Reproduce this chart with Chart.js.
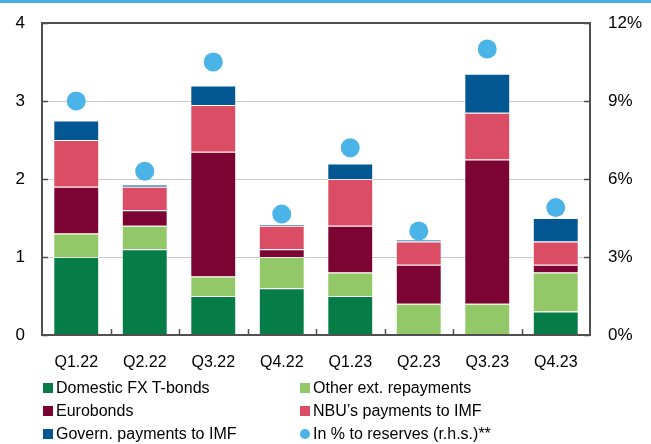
<!DOCTYPE html>
<html>
<head>
<meta charset="utf-8">
<script src="https://cdn.jsdelivr.net/npm/chart.js@4"></script>
<style>
  html, body { margin: 0; padding: 0; background: #fff; }
  #wrap { position: relative; width: 651px; height: 444px; overflow: hidden; }
  #topline { position: absolute; left: 0; top: 0; width: 651px; height: 3px; background: #4aafe4; }
  canvas { position: absolute; left: 0; top: 0; }
  .legend { position: absolute; font-family: "Liberation Sans", Arial, sans-serif; font-size: 16px; color: #000; }
  .item { position: absolute; white-space: nowrap; height: 20px; line-height: 20px; }
  .sw { display: inline-block; width: 10px; height: 10px; margin-right: 3px; vertical-align: 0px; }
  .dot { border-radius: 50%; }
</style>
</head>
<body>
<div id="wrap">
  <canvas id="chart" width="651" height="444"></canvas>
  <div id="topline"></div>
  <div class="legend" id="legend"></div>
</div>
<script>
// data
const quarters = ["Q1.22", "Q2.22", "Q3.22", "Q4.22", "Q1.23", "Q2.23", "Q3.23", "Q4.23"];
const domesticFx = [1.0, 1.1, 0.5, 0.6, 0.5, 0, 0, 0.3];
const otherExt = [0.3, 0.3, 0.25, 0.4, 0.3, 0.4, 0.4, 0.5];
const eurobonds = [0.6, 0.2, 1.6, 0.1, 0.6, 0.5, 1.85, 0.1];
const nbuImf = [0.6, 0.3, 0.6, 0.3, 0.6, 0.3, 0.6, 0.3];
const govImf = [0.25, 0.03, 0.25, 0.02, 0.2, 0.02, 0.5, 0.3];
const pctReserves = [9.0, 6.3, 10.5, 4.65, 7.2, 4.0, 11.0, 4.9];
const leftTicks = [0, 1, 2, 3, 4];
const rightTicks = [0, 3, 6, 9, 12];

const FONT = "Liberation Sans, Arial, sans-serif";
const AXIS = "#505050";

const barSet = (label, data, color) => ({
    type: "bar",
    label: label,
    data: data,
    backgroundColor: color,
    borderColor: "rgba(255,255,255,0.55)",
    borderWidth: 1,
    yAxisID: "y",
    order: 1,
    categoryPercentage: 1,
    barPercentage: 0.67
});

// frame + inward ticks
const framePlugin = {
    id: "frame",
    afterDatasetsDraw: (chart) => {
        const ctx = chart.ctx;
        const a = chart.chartArea;
        const y = chart.scales.y;
        const y2 = chart.scales.y2;
        const x = chart.scales.x;
        ctx.save();
        ctx.strokeStyle = AXIS;
        ctx.lineWidth = 2;
        ctx.strokeRect(a.left, a.top, a.right - a.left, a.bottom - a.top);
        ctx.lineWidth = 1.5;
        ctx.beginPath();
        leftTicks.forEach(v => {
            const p = Math.round(y.getPixelForValue(v)) + 0.5;
            ctx.moveTo(a.left, p); ctx.lineTo(a.left + 6, p);
        });
        rightTicks.forEach(v => {
            const p = Math.round(y2.getPixelForValue(v)) + 0.5;
            ctx.moveTo(a.right, p); ctx.lineTo(a.right - 6, p);
        });
        for(let i = 1; i < quarters.length; i++){
            const p = Math.round((x.getPixelForValue(i - 1) + x.getPixelForValue(i)) / 2) + 0.5;
            ctx.moveTo(p, a.bottom); ctx.lineTo(p, a.bottom - 6);
        }
        ctx.stroke();
        ctx.restore();
    }
};

const noPadV = (w) => (s) => { s.width = w; s.paddingTop = 0; s.paddingBottom = 0; };

new Chart(document.getElementById("chart"), {
    data: {
        labels: quarters,
        datasets: [
            {
                type: "line",
                label: "In % to reserves (r.h.s.)**",
                data: pctReserves,
                showLine: false,
                pointRadius: 9.5,
                pointBackgroundColor: "#4ab3e7",
                pointBorderWidth: 0,
                yAxisID: "y2",
                order: 0
            },
            barSet("Domestic FX T-bonds", domesticFx, "#067d47"),
            barSet("Other ext. repayments", otherExt, "#93c868"),
            barSet("Eurobonds", eurobonds, "#7c0433"),
            barSet("NBU’s payments to IMF", nbuImf, "#db4d65"),
            barSet("Govern. payments to IMF", govImf, "#035894")
        ]
    },
    options: {
        responsive: false,
        animation: false,
        layout: { padding: { top: 23, bottom: 68, left: 0, right: 0 } },
        plugins: { legend: { display: false }, tooltip: { enabled: false } },
        scales: {
            x: {
                stacked: true,
                offset: true,
                grid: { display: false },
                border: { display: false },
                ticks: { color: "#000", font: { family: FONT, size: 16 }, padding: 10, maxRotation: 0 },
                afterFit: (s) => { s.height = 41; s.paddingLeft = 0; s.paddingRight = 0; }
            },
            y: {
                stacked: true,
                position: "left",
                min: 0, max: 4,
                afterBuildTicks: (s) => { s.ticks = leftTicks.map(v => ({ value: v })); },
                grid: {
                    color: (c) => (c.tick.value === 0 || c.tick.value === 4) ? "rgba(0,0,0,0)" : "#c9c9c9",
                    lineWidth: 1,
                    drawTicks: false
                },
                border: { display: false },
                ticks: { color: "#000", font: { family: FONT, size: 17 }, padding: 17 },
                afterFit: noPadV(42)
            },
            y2: {
                position: "right",
                min: 0, max: 12,
                afterBuildTicks: (s) => { s.ticks = rightTicks.map(v => ({ value: v })); },
                grid: { display: false, drawTicks: false },
                border: { display: false },
                ticks: {
                    color: "#000",
                    font: { family: FONT, size: 17 },
                    padding: 18,
                    callback: (v) => v + "%"
                },
                afterFit: noPadV(61)
            }
        }
    },
    plugins: [framePlugin]
});

// legend
const legendItems = [
    ["Domestic FX T-bonds", "#067d47", 43, 378, false],
    ["Other ext. repayments", "#93c868", 300, 378, false],
    ["Eurobonds", "#7c0433", 43, 401, false],
    ["NBU’s payments to IMF", "#db4d65", 300, 401, false],
    ["Govern. payments to IMF", "#035894", 43, 424, false],
    ["In % to reserves (r.h.s.)**", "#4ab3e7", 300, 424, true]
];
const legend = document.getElementById("legend");
legendItems.forEach(([text, color, left, top, dot]) => {
    const d = document.createElement("div");
    d.className = "item";
    d.style.left = left + "px";
    d.style.top = top + "px";
    const s = document.createElement("span");
    s.className = "sw" + (dot ? " dot" : "");
    s.style.background = color;
    d.appendChild(s);
    d.appendChild(document.createTextNode(text));
    legend.appendChild(d);
});
</script>
</body>
</html>
